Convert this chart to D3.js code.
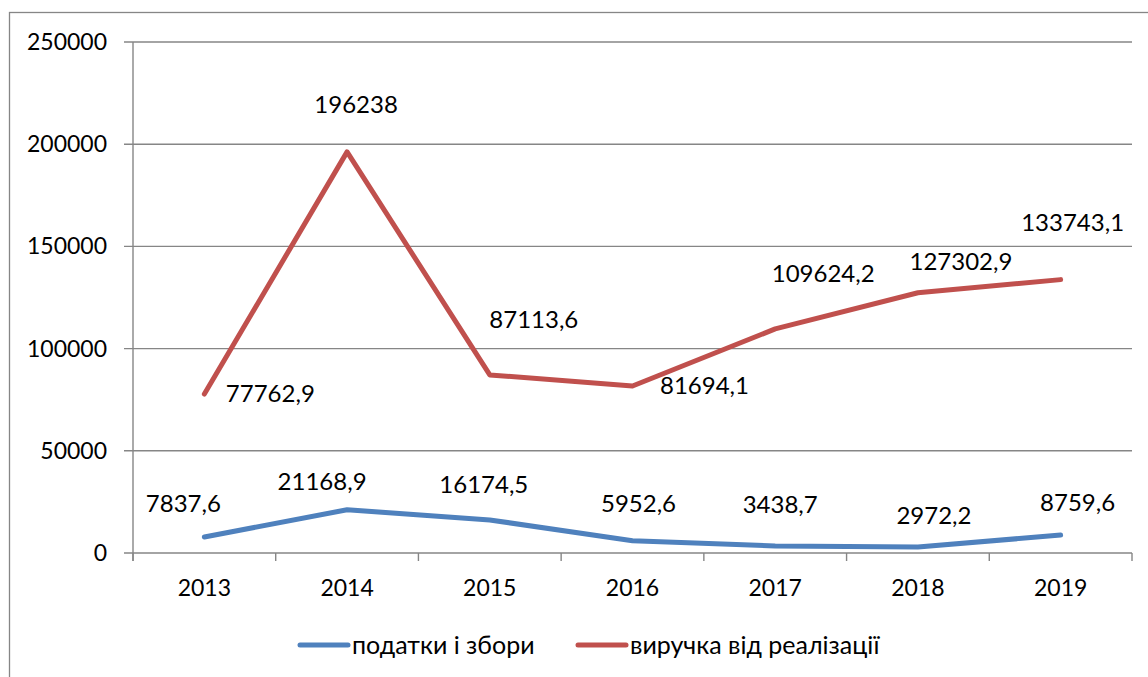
<!DOCTYPE html>
<html><head><meta charset="utf-8">
<script src="https://cdn.jsdelivr.net/npm/d3@7/dist/d3.min.js"></script>
<style>body{margin:0;background:#fff}svg{display:block;font-family:Lato,"Open Sans",sans-serif}</style>
</head><body>
<svg id="c" width="1148" height="677"></svg>
<script>
const years = ["2013","2014","2015","2016","2017","2018","2019"];
const taxes = [7837.6, 21168.9, 16174.5, 5952.6, 3438.7, 2972.2, 8759.6];
const revenue = [77762.9, 196238, 87113.6, 81694.1, 109624.2, 127302.9, 133743.1];
const taxLabels = ["7837,6","21168,9","16174,5","5952,6","3438,7","2972,2","8759,6"];
const revLabels = ["77762,9","196238","87113,6","81694,1","109624,2","127302,9","133743,1"];
const yTicks = [0, 50000, 100000, 150000, 200000, 250000];
const seriesNames = ["податки і збори", "виручка від реалізації"];
const colors = ["#4F81BD", "#C0504D"];

// label offsets (pixels relative to point) – layout only
const taxOff = [[-21,-33],[-25,-28],[-6,-35],[6,-37],[5,-41],[16,-31],[17,-32]];
const revOff = [[66,0],[9,-47],[44,-55],[72,0],[48,-55],[43,-31],[12,-57]];

const svg = d3.select("#c");
const L = 133, R = 1132, T = 42, B = 553;
svg.append("rect").attr("x",9.5).attr("y",12.5).attr("width",1160).attr("height",700)
  .attr("fill","none").attr("stroke","#868686").attr("stroke-width",1.3);

const x = d3.scaleBand().domain(years).range([L,R]).padding(0);
const y = d3.scaleLinear().domain([0,250000]).range([B,T]);

// grid
svg.append("g").selectAll("line").data(yTicks).join("line")
  .attr("x1",L-9).attr("x2",R).attr("y1",d=>y(d)).attr("y2",d=>y(d))
  .attr("stroke","#868686").attr("stroke-width",1.4);
// y axis line
svg.append("line").attr("x1",L).attr("x2",L).attr("y1",T).attr("y2",B+8)
  .attr("stroke","#868686").attr("stroke-width",1.4);
// x ticks
const bounds = years.map(d=>x(d)).concat([R]);
svg.append("g").selectAll("line").data(bounds).join("line")
  .attr("x1",d=>d).attr("x2",d=>d).attr("y1",B).attr("y2",B+8)
  .attr("stroke","#868686").attr("stroke-width",1.4);

const fsAxis = 23, fs = 24, fsLeg = 25;
svg.append("g").selectAll("text").data(yTicks).join("text")
  .attr("x",L-26).attr("y",d=>y(d)).attr("dy","0.35em").attr("text-anchor","end")
  .attr("font-size",fsAxis).attr("fill","#000").text(d=>d);
svg.append("g").selectAll("text").data(years).join("text")
  .attr("x",d=>x(d)+x.bandwidth()/2).attr("y",B+35).attr("dy","0.35em").attr("text-anchor","middle")
  .attr("font-size",fsAxis).attr("fill","#000").text(d=>d);

const cx = d=>x(d)+x.bandwidth()/2;
const line = d3.line().x((d,i)=>cx(years[i])).y(d=>y(d));
[[taxes,colors[0],taxLabels,taxOff],[revenue,colors[1],revLabels,revOff]].forEach(([vals,col,labs,off])=>{
  svg.append("path").datum(vals).attr("d",line).attr("fill","none")
    .attr("stroke",col).attr("stroke-width",5).attr("stroke-linejoin","round").attr("stroke-linecap","round");
  svg.append("g").selectAll("text").data(vals).join("text")
    .attr("x",(d,i)=>cx(years[i])+off[i][0]).attr("y",(d,i)=>y(d)+off[i][1])
    .attr("dy","0.35em").attr("text-anchor","middle").attr("font-size",fs).attr("fill","#000")
    .text((d,i)=>labs[i]);
});

// legend
const lg = [[300,352],[578,630]];
seriesNames.forEach((n,i)=>{
  svg.append("line").attr("x1",lg[i][0]).attr("x2",lg[i][0]+48).attr("y1",645).attr("y2",645)
    .attr("stroke",colors[i]).attr("stroke-width",5).attr("stroke-linecap","round");
  svg.append("text").attr("x",lg[i][1]).attr("y",645).attr("dy","0.35em")
    .attr("font-size",fsLeg).attr("fill","#000").text(n);
});
</script>
</body></html>
